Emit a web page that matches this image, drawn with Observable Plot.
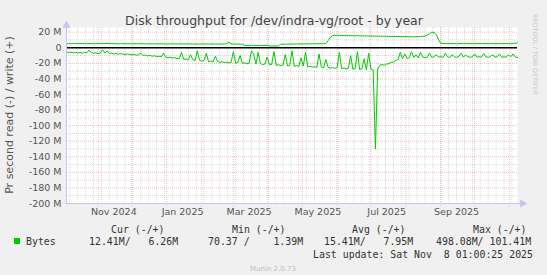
<!DOCTYPE html>
<html><head><meta charset="utf-8">
<script src="https://cdn.jsdelivr.net/npm/d3@7"></script>
<script src="https://cdn.jsdelivr.net/npm/@observablehq/plot@0.6"></script>
<style>
html,body{margin:0;padding:0;background:#f0f0f0;}
#chart{width:547px;height:275px;overflow:hidden;}
svg text{white-space:pre;}
</style></head><body><div id="chart"></div>
<script>
// ---- data (values in M bytes / second), one sample every 2 days ----
const startTime = Date.UTC(2024, 9, 4, 1, 0, 25);
const endTime = Date.UTC(2025, 10, 8, 1, 0, 25);
const stepDays = 2;

const writeM = [
  5.3, 5.3, 5.2, 5.3, 5.3, 5.2, 5.3, 5.3, 5.3, 5.2,
  5.3, 5.3, 5.2, 5.2, 5.3, 5.3, 5.2, 5.3, 5.6, 5.3,
  5.3, 5.2, 5.2, 5.1, 5.2, 5.2, 5.1, 5.1, 5.2, 5.1,
  5.1, 5.0, 5.1, 5.1, 5.0, 5.0, 5.1, 5.0, 5.0, 5.0,
  5.0, 4.9, 5.0, 5.0, 4.9, 4.9, 5.0, 4.9, 4.9, 4.9,
  4.9, 4.8, 4.9, 4.9, 4.8, 4.9, 4.8, 4.8, 4.8, 4.8,
  4.8, 4.8, 4.7, 4.8, 4.8, 4.7, 4.8, 4.8, 4.7, 4.7,
  4.8, 5.5, 7.0, 5.0, 4.7, 4.7, 4.7, 4.6, 4.6, 2.9,
  2.8, 2.8, 2.8, 2.8, 2.8, 2.8, 2.8, 2.9, 3.0, 3.0,
  2.4, 2.3, 2.3, 2.3, 2.4, 4.5, 4.6, 4.6, 4.7, 4.7,
  4.7, 4.8, 4.8, 4.8, 4.9, 4.9, 4.9, 5.0, 5.0, 5.0,
  5.1, 5.1, 5.1, 5.2, 5.2, 5.4, 9.0, 13.5, 15.5, 16.0,
  15.8, 15.9, 15.6, 15.7, 15.5, 15.6, 15.4, 15.5, 15.3, 15.6,
  15.2, 15.3, 15.1, 15.2, 15.0, 15.1, 14.9, 15.0, 14.8, 14.9,
  14.7, 14.8, 14.6, 14.7, 14.5, 14.6, 14.4, 14.5, 14.3, 14.4,
  14.2, 14.3, 14.1, 14.2, 14.0, 14.3, 14.2, 14.4, 14.6, 15.0,
  16.0, 18.0, 20.0, 19.5, 17.0, 10.0, 5.6, 5.4, 5.3, 5.3,
  5.4, 5.3, 5.3, 5.2, 5.3, 5.3, 5.2, 5.3, 5.3, 5.2,
  5.3, 5.3, 5.2, 5.3, 5.4, 5.3, 5.3, 5.2, 5.3, 5.3,
  5.2, 5.3, 5.3, 5.2, 5.3, 5.3, 5.2, 5.3, 5.4, 5.8,
  6.26
];

const readM = [
  5.5, 6.2, 5.6, 6.4, 5.7, 6.9, 5.9, 7.1, 6.0, 6.6,
  3.0, 6.4, 7.1, 6.5, 7.6, 6.7, 2.5, 6.9, 4.0, 7.5,
  7.0, 8.1, 7.2, 8.4, 7.6, 8.0, 8.8, 7.9, 8.7, 9.2,
  8.6, 9.6, 8.9, 7.0, 10.0, 9.3, 10.5, 9.8, 11.0, 10.2,
  11.4, 10.8, 11.9, 7.0, 12.0, 12.9, 12.2, 13.3, 12.8, 13.9,
  14.0, 6.0, 15.0, 14.4, 15.6, 9.0, 15.2, 16.5, 4.0, 16.0,
  17.3, 16.4, 7.0, 17.8, 17.0, 18.2, 11.0, 17.6, 18.8, 18.0,
  19.1, 18.4, 19.5, 18.7, 5.0, 19.8, 19.0, 10.0, 20.1, 19.3,
  20.6, 19.8, 4.0, 8.0, 21.0, 6.0, 20.4, 21.6, 20.9, 12.0,
  21.9, 21.2, 5.0, 22.5, 21.8, 22.9, 22.2, 9.0, 23.4, 22.6,
  4.0, 23.8, 22.9, 24.1, 13.0, 23.5, 6.0, 24.6, 23.8, 25.0,
  24.3, 25.4, 8.0, 24.8, 25.9, 15.0, 25.1, 26.2, 25.4, 26.5,
  25.8, 6.0, 26.9, 26.0, 27.3, 26.4, 10.0, 27.6, 26.7, 5.0,
  28.0, 27.0, 14.0, 28.3, 7.0, 27.5, 28.6, 130.0, 27.0, 22.5,
  21.6, 22.4, 20.8, 20.5, 18.6, 18.4, 16.2, 15.4, 6.0, 14.0,
  8.0, 13.8, 12.9, 5.0, 12.6, 9.0, 13.1, 6.0, 12.0, 12.9,
  11.8, 7.0, 12.4, 11.6, 9.0, 12.1, 11.3, 12.5, 7.0, 11.7,
  12.6, 9.0, 11.5, 12.3, 11.1, 7.0, 12.0, 9.5, 11.4, 12.2,
  11.6, 8.0, 12.4, 11.3, 12.1, 7.5, 11.6, 12.4, 11.2, 9.0,
  12.0, 11.4, 8.0, 12.3, 11.5, 12.2, 9.0, 11.6, 8.0, 12.0,
  12.41
];

const monthStarts = ["2024-11-01","2024-12-01","2025-01-01","2025-02-01","2025-03-01","2025-04-01",
  "2025-05-01","2025-06-01","2025-07-01","2025-08-01","2025-09-01","2025-10-01","2025-11-01"];
const xLabelDates = ["2024-11-15","2025-01-15","2025-03-15","2025-05-15","2025-07-15","2025-09-15"];
const xLabels = ["Nov 2024","Jan 2025","Mar 2025","May 2025","Jul 2025","Sep 2025"];
const yTicks = [20, 0, -20, -40, -60, -80, -100, -120, -140, -160, -180, -200];
const yLabels = ["20 M","0","-20 M","-40 M","-60 M","-80 M","-100 M","-120 M","-140 M","-160 M","-180 M","-200 M"];
const yMinor = [10, -10, -30, -50, -70, -90, -110, -130, -150, -170, -190];

const titleText = "Disk throughput for /dev/indra-vg/root - by year";
const yTitle = "Pr second read (-) / write (+)";
const legendHeaders = ["Cur (-/+)", "Min (-/+)", "Avg (-/+)", "Max (-/+)"];
const legendSeries = "Bytes";
const legendValues = ["12.41M/   6.26M", "70.37 /    1.39M", "15.41M/   7.95M", "498.08M/ 101.41M"];
const lastUpdate = "Last update: Sat Nov  8 01:00:25 2025";
const munin = "Munin 2.0.73";
const rrdText = "RRDTOOL / TOBI OETIKER";

// ---- build ----
const data = writeM.map((w, i) => ({
  date: new Date(startTime + i * stepDays * 864e5),
  write: w * 1e6,
  read: -readM[i] * 1e6
}));
const M = v => v * 1e6;
const t0 = new Date(startTime), t1 = new Date(endTime);
const weeks = d3.utcMonday.range(t0, t1);
const months = monthStarts.map(s => new Date(s + "T00:00:00Z"));
const labelDates = xLabelDates.map(s => new Date(s + "T00:00:00Z"));

const green = "#00cc00";
const axisCol = "#c4c4ee";
const gridGray = "rgba(160,160,160,0.4)";
const gridRed = "rgba(230,90,90,0.38)";

const chart = Plot.plot({
  width: 547, height: 275,
  marginLeft: 66, marginRight: 30, marginTop: 27, marginBottom: 72,
  style: {background: "transparent", fontFamily: "DejaVu Sans", fontSize: "9.5px", color: "#555", overflow: "visible"},
  x: {type: "utc", domain: [t0, t1]},
  y: {domain: [M(-200), M(26)]},
  marks: [
    Plot.frame({fill: "white", stroke: "none"}),
    Plot.ruleY(yMinor.map(M), {stroke: gridGray, strokeDasharray: "1,1"}),
    Plot.ruleX(weeks, {stroke: gridGray, strokeDasharray: "1,1", insetBottom: -2}),
    Plot.ruleY(yTicks.map(M), {stroke: gridRed, strokeDasharray: "1,1"}),
    Plot.ruleX(months, {stroke: gridRed, strokeDasharray: "1,1", insetBottom: -3}),
    Plot.ruleY([0], {stroke: "black", strokeWidth: 1.4}),
    Plot.line(data, {x: "date", y: "write", stroke: green, strokeWidth: 1}),
    Plot.line(data, {x: "date", y: "read", stroke: green, strokeWidth: 1}),
    Plot.ruleX([t0], {stroke: axisCol, strokeWidth: 1}),
    Plot.ruleY([M(-200)], {stroke: axisCol, strokeWidth: 1, insetRight: -4}),
    Plot.dot([0], {x: () => t0, y: () => M(26), symbol: "triangle", r: 3, dy: -2, fill: axisCol, stroke: "none"}),
    Plot.dot([0], {x: () => t1, y: () => M(-200), symbol: "triangle", rotate: 90, r: 3, dx: 5, fill: axisCol, stroke: "none"}),
    Plot.axisY({ticks: yTicks.map(M), tickFormat: d => yLabels[yTicks.indexOf(Math.round(d / 1e6))], tickSize: 0, tickPadding: 5, label: null}),
    Plot.axisX({ticks: labelDates, tickFormat: d => xLabels[labelDates.findIndex(x => +x === +d)], tickSize: 0, tickPadding: 5, label: null})
  ]
});

const svg = d3.select(chart);
const addText = (x, y, txt, opts) => svg.append("text")
  .attr("x", x).attr("y", y)
  .attr("text-anchor", opts.anchor || "start")
  .attr("font-family", opts.family || "DejaVu Sans")
  .attr("font-size", opts.size)
  .attr("fill", opts.fill)
  .attr("transform", opts.transform || null)
  .text(txt);

addText(274, 25, titleText, {anchor: "middle", size: "12.5px", fill: "#444"});
addText(0, 0, yTitle, {anchor: "middle", size: "11px", fill: "#555", transform: "translate(13,115) rotate(-90)"});
addText(0, 0, rrdText, {anchor: "start", size: "6.3px", fill: "#c8c8c8", transform: "translate(533,14) rotate(90)"});

const mono = {family: "DejaVu Sans Mono", size: "9.9px", fill: "#333"};
const headerX = [111, 232, 352, 473];
legendHeaders.forEach((h, i) => addText(headerX[i], 232.5, h, mono));
svg.append("rect").attr("x", 14).attr("y", 238).attr("width", 6).attr("height", 6).attr("fill", green);
addText(26, 245, legendSeries, mono);
const valX = [89, 208, 324, 436];
legendValues.forEach((v, i) => addText(valX[i], 245, v, mono));
addText(533, 257.5, lastUpdate, {...mono, anchor: "end"});
addText(273, 270.5, munin, {anchor: "middle", size: "7px", fill: "#bdbdbd"});

document.getElementById("chart").appendChild(chart);
</script>
</body></html>
